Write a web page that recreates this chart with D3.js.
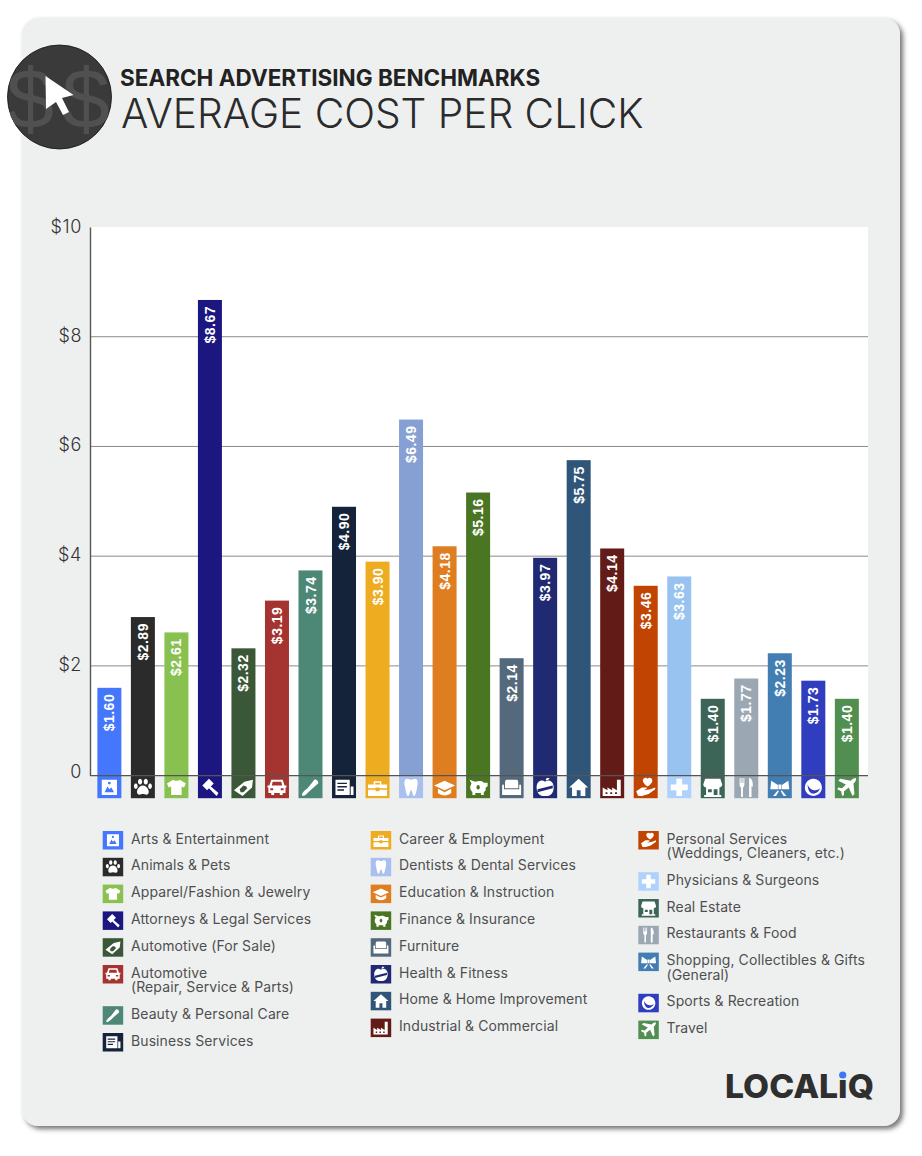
<!DOCTYPE html>
<html>
<head>
<meta charset="utf-8">
<script src="https://cdn.jsdelivr.net/npm/d3@7"></script>
<style>
  html, body { margin: 0; background: #fff; }
  svg { display: block; }
</style>
</head>
<body>
<svg id="chart"></svg>
<script>
  const categories = [
    "Arts & Entertainment", "Animals & Pets", "Apparel/Fashion & Jewelry", "Attorneys & Legal Services",
    "Automotive (For Sale)", "Automotive\n(Repair, Service & Parts)", "Beauty & Personal Care", "Business Services",
    "Career & Employment", "Dentists & Dental Services", "Education & Instruction", "Finance & Insurance",
    "Furniture", "Health & Fitness", "Home & Home Improvement", "Industrial & Commercial",
    "Personal Services\n(Weddings, Cleaners, etc.)", "Physicians & Surgeons", "Real Estate", "Restaurants & Food",
    "Shopping, Collectibles & Gifts\n(General)", "Sports & Recreation", "Travel"
  ];
  const values = [1.60, 2.89, 2.61, 8.67, 2.32, 3.19, 3.74, 4.90, 3.90, 6.49, 4.18, 5.16,
                  2.14, 3.97, 5.75, 4.14, 3.46, 3.63, 1.40, 1.77, 2.23, 1.73, 1.40];
  const barColors = ["#4477fb", "#2b2b2b", "#88c14f", "#1c1680", "#3a5737", "#a53330", "#4d8775", "#14233a",
                     "#eeac20", "#87a0d3", "#df7e21", "#4a7624", "#55697c", "#1f2a73", "#2f5679", "#621b17",
                     "#c24403", "#98c3f0", "#3c6558", "#9ba8b3", "#427eb1", "#2f3dbe", "#518f50"];
  const tileColors = barColors.map((c, i) => i === 9 ? "#a9c0ee" : i === 17 ? "#aed2fc" : c);
  const yTicks = [0, 2, 4, 6, 8, 10];
  const legendColumnSizes = [8, 8, 7];

  // white glyphs, drawn in a box of about -10..10
  const iconPaths = [
    "M-8-8H8V8H-8ZM-5 5H5L2 0 0 2-2-1ZM-1.5-4.5a1.5 1.5 0 1 0 3 0a1.5 1.5 0 1 0-3 0Z",
    "M-3-9a2.2 3 0 1 0 .1 0ZM3-9a2.2 3 0 1 0 .1 0ZM-7.5-4a2 2.8 0 1 0 .1 0ZM7.5-4a2 2.8 0 1 0 .1 0ZM0-2C-4-2-7 3-6 6C-5 9-2 7 0 7C2 7 5 9 6 6C7 3 4-2 0-2Z",
    "M-3.5-8C-2-6.5 2-6.5 3.5-8L10-4 8 0 5.5-1V8H-5.5V-1L-8 0-10-4Z",
    "M-8-2L-1-9 4-4-3 3ZM1-1L9 6 7 9-1 1Z",
    "M-10 3L1-6 10-8 9 0-1 9ZM-4 2L0-2 3-1 4 1 0 5-3 5Z",
    "M-6-8H6L8-2H10V0H9V6H6V8H3V6H-3V8H-6V6H-9V0H-10V-2H-8ZM-4.5-6L-5.5-2H5.5L4.5-6ZM-7 1V3H-4V1ZM4 1V3H7V1Z",
    "M-9 8C-9 6-6 3-3 1L4-8C6-9 9-6 8-4L0 3C-3 6-6 9-8 9Z",
    "M-9-8H6V8H-9ZM-7-5V-3.5H3V-5ZM-7-1.5V0H3V-1.5ZM-7 2V3.5H0V2ZM7-1H10V8H7Z",
    "M-10-3H-4V-6.5H4V-3H10V1H2V0H-2V1H-10ZM-2.5-3H2.5V-5H-2.5ZM-10 2.5H-2V4H2V2.5H10V9H-10Z",
    "M-4.5-9C-3-9-1.5-8 0-8C1.5-8 3-9 4.5-9C7-9 7.5-5 6.5-1C6 2 5 9 3 9C1.5 9 1.5 3 0 3C-1.5 3-1.5 9-3 9C-5 9-6 2-6.5-1C-7.5-5-7-9-4.5-9Z",
    "M0-7L11-2 0 3-11-2ZM-7 1.5L0 5 7 1.5V6C3 9.5-3 9.5-7 6Z",
    "M-7-4L-9-8-3-6C0-7 4-7 6-5L10-5V-1L8 0V3L6 5V8H3V6H-3V8H-6V5C-9 2-9-1-7-4ZM0-2.5a1.8 2.4 0 1 0 .1 0Z",
    "M-5-8H5C7-8 7-6 7-3V1H-7V-3C-7-6-7-8-5-8ZM-9-3C-8.5-3-8-2.5-8-2V2H8V-2C8-2.5 8.5-3 9-3C10-3 10-2 10 0V8H-10V0C-10-2-10-3-9-3Z",
    "M0-6C4-9 9-6 9 0C9 6 5 10 0 9C-5 10-9 6-9 0C-9-6-4-9 0-6ZM.5-7.5L1.5-10 4.5-10C4.5-8.5 2.5-7.5.5-7.5ZM-8 2L8-2V1L-8 5Z",
    "M0-9L10 0H7V9H2V3H-2V9H-7V0H-10Z",
    "M-10 9V0L-5 3V0L0 3V0L5 3V-8H9V9ZM-7 5V7H-5V5ZM-2 5V7H0V5ZM3 5V7H5V5Z",
    "M2-9C3.5-11 7-10 7-7C7-4 2-1 2-1C2-1-3-4-3-7C-3-10 .5-11 2-9ZM-10 4L-4 0H1V2H-1V3L5 2 10 0V2L3 7-4 9-8 9Z",
    "M-3-9H3V-3H9V3H3V9H-3V3H-9V-3H-3Z",
    "M-8-9H8L10-3C10-1 8 0 7 0V8H9V10H-9V8H-7V0C-8 0-10-1-10-3ZM1 2V8H5V2ZM-5 2V5H-1V2Z",
    "M-7-10H-6V-5H-5V-10H-4V-5H-3V-10H-2V-3C-2-1-3 0-3.5 0V10H-5.5V0C-6 0-7-1-7-3ZM3-10C6-10 7-6 7-1H5.5V10H3Z",
    "M-1.5-3H1.5V2H-1.5ZM-2-2.5L-9-7-10 2H-2ZM2-2.5L9-7 10 2H2ZM-2 3L-7 9H-4L-1 4ZM2 3L7 9H4L1 4Z",
    "M0-9a9 9 0 1 0 .1 0ZM-6-3C-4 3 3 5 7 1C6 5 2 7-1 6.5C-4 6-6 2-6-3Z",
    "M9-10C11-9 9-6 7-4L8 7 6 9 2 0-3 4V8L-5 9-6 4-10 2-9 0-5 1-1-3-9-7-7-9 4-7C6-9 8-10 9-10Z"
  ];

  const width = 922, height = 1156;
  const plot = { left: 90, right: 868, top: 227, bottom: 775.6 };
  const font = "Inter, 'Noto Sans', sans-serif";

  const svg = d3.select("#chart").attr("width", width).attr("height", height)
    .attr("viewBox", [0, 0, width, height]);

  // card with its shadow
  const defs = svg.append("defs");
  defs.append("filter").attr("id", "cardShadow")
    .attr("x", "-5%").attr("y", "-5%").attr("width", "110%").attr("height", "110%")
    .append("feDropShadow")
    .attr("dx", 3).attr("dy", 3).attr("stdDeviation", 2.6)
    .attr("flood-color", "#444").attr("flood-opacity", 0.75);
  defs.append("clipPath").attr("id", "badgeClip")
    .append("circle").attr("cx", 59.5).attr("cy", 97).attr("r", 52);

  svg.append("rect")
    .attr("x", 22).attr("y", 18).attr("width", 878).attr("height", 1108).attr("rx", 16)
    .attr("fill", "#eef0f0").attr("filter", "url(#cardShadow)");

  // header badge
  const badge = svg.append("g");
  badge.append("circle").attr("cx", 59.5).attr("cy", 97).attr("r", 52)
    .attr("fill", "#3a3a3a").attr("stroke", "#111").attr("stroke-width", 0.8);
  badge.append("text").attr("clip-path", "url(#badgeClip)")
    .attr("x", 62).attr("y", 128).attr("text-anchor", "middle")
    .attr("font-family", "'Liberation Sans', sans-serif").attr("font-size", 86)
    .attr("fill", "#505050").attr("letter-spacing", 8).text("$$");
  badge.append("path").attr("fill", "#fff")
    .attr("d", "M45.5 76L73.5 95 62 98 69 112 63 115 56 102 46 109Z");

  svg.append("text").attr("x", 120).attr("y", 86)
    .attr("font-family", font).attr("font-weight", 700).attr("font-size", 22.5)
    .attr("fill", "#222").text("SEARCH ADVERTISING BENCHMARKS");
  svg.append("text").attr("x", 121).attr("y", 128)
    .attr("font-family", font).attr("font-weight", 300).attr("font-size", 40.6)
    .attr("fill", "#2b2b2b").text("AVERAGE COST PER CLICK");

  // scales
  const x = d3.scaleBand().domain(categories).range([92.6, 863.6]).paddingInner(0.284).paddingOuter(0.142);
  const y = d3.scaleLinear().domain([0, 10]).range([plot.bottom, plot.top]);

  svg.append("rect")
    .attr("x", plot.left).attr("y", plot.top)
    .attr("width", plot.right - plot.left).attr("height", plot.bottom - plot.top)
    .attr("fill", "#fff");

  // gridlines
  svg.append("g").selectAll("line")
    .data(yTicks.filter(d => d > 0 && d < 10))
    .join("line")
    .attr("x1", plot.left).attr("x2", plot.right)
    .attr("y1", d => y(d)).attr("y2", d => y(d))
    .attr("stroke", "#8a8a8a").attr("stroke-width", 1);

  // bars
  const data = categories.map((c, i) => ({ name: c, value: values[i], color: barColors[i], tile: tileColors[i], icon: iconPaths[i] }));

  svg.append("g").selectAll("rect")
    .data(data)
    .join("rect")
    .attr("x", d => x(d.name))
    .attr("y", d => y(d.value))
    .attr("width", x.bandwidth())
    .attr("height", d => y(0) - y(d.value))
    .attr("fill", d => d.color);

  // value labels, rotated, hanging from the top of the bar
  svg.append("g").selectAll("text")
    .data(data)
    .join("text")
    .attr("transform", d => `translate(${x(d.name) + x.bandwidth() / 2},${y(d.value) + 6}) rotate(-90)`)
    .attr("text-anchor", "end")
    .attr("dy", "0.36em")
    .attr("font-family", "'Liberation Sans', Arial, sans-serif")
    .attr("font-weight", 700).attr("font-size", 14).attr("letter-spacing", 0.5)
    .attr("fill", "#fff")
    .text(d => "$" + d.value.toFixed(2));

  // icon tiles under the bars
  const tiles = svg.append("g").selectAll("g")
    .data(data)
    .join("g")
    .attr("transform", d => `translate(${x(d.name)},${plot.bottom})`);
  tiles.append("rect")
    .attr("width", x.bandwidth()).attr("height", 22.6)
    .attr("fill", d => d.tile);
  tiles.append("path")
    .attr("transform", `translate(${x.bandwidth() / 2},11.8) scale(0.95)`)
    .attr("d", d => d.icon)
    .attr("fill", "#fff").attr("fill-rule", "evenodd");

  // axes
  const yAxis = d3.axisLeft(y).tickValues(yTicks).tickSize(0).tickPadding(8)
    .tickFormat(d => d === 0 ? "0" : "$" + d);
  const yG = svg.append("g").attr("transform", `translate(${plot.left},0)`).call(yAxis);
  yG.select(".domain").attr("stroke", "#555").attr("stroke-width", 1.4);
  yG.selectAll("text")
    .attr("font-family", font).attr("font-size", 18).attr("letter-spacing", 0.6).attr("font-weight", 300).attr("fill", "#333")
    .attr("dy", d => d === 0 ? "0.1em" : d === 10 ? "0.3em" : "0.24em");

  svg.append("line")
    .attr("x1", plot.left).attr("x2", plot.right)
    .attr("y1", plot.bottom).attr("y2", plot.bottom)
    .attr("stroke", "#555").attr("stroke-width", 1.4);

  // legend in three columns
  const columnX = [102.7, 370.7, 638.3];
  let start = 0;
  legendColumnSizes.forEach((size, col) => {
    let rowY = 831;
    data.slice(start, start + size).forEach(d => {
      const lines = d.name.split("\n");
      const row = svg.append("g").attr("transform", `translate(${columnX[col]},${rowY})`);
      row.append("rect").attr("width", 20.5).attr("height", 18.5).attr("fill", d.tile);
      row.append("path")
        .attr("transform", "translate(10.25,9.25) scale(0.75)")
        .attr("d", d.icon).attr("fill", "#fff").attr("fill-rule", "evenodd");
      const label = row.append("text")
        .attr("font-family", font).attr("font-size", 14).attr("letter-spacing", 0.1).attr("fill", "#4f4f4f");
      label.selectAll("tspan").data(lines).join("tspan")
        .attr("x", 28.3)
        .attr("y", (_, i) => 12.6 + i * 14.4)
        .text(t => t);
      rowY += 26.8 + (lines.length - 1) * 14.4;
    });
    start += size;
  });

  // logo
  svg.append("text").attr("x", 725).attr("y", 1098)
    .attr("font-family", font).attr("font-weight", 800).attr("font-size", 33)
    .attr("textLength", 149).attr("lengthAdjust", "spacingAndGlyphs")
    .attr("fill", "#2f2f2f").text("LOCALiQ");
  svg.append("circle").attr("cx", 842.7).attr("cy", 1075).attr("r", 3.6).attr("fill", "#3f78f5");
</script>
</body>
</html>
